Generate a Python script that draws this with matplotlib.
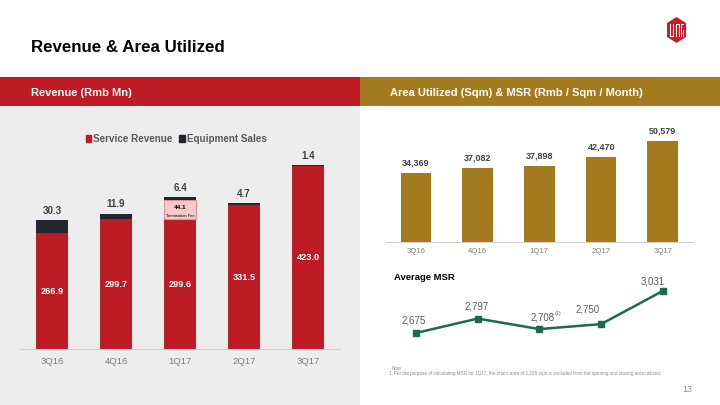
import matplotlib
matplotlib.use("Agg")
import matplotlib.pyplot as plt
from matplotlib.patches import Rectangle, Polygon, Patch

plt.rcParams['font.family'] = ['Liberation Sans', 'DejaVu Sans']

# ---------------- data ----------------
quarters = ["3Q16", "4Q16", "1Q17", "2Q17", "3Q17"]
service_revenue = [266.9, 299.7, 299.6, 331.5, 423.0]
termination_fee = [0, 0, 44.1, 0, 0]
equipment_sales = [30.3, 11.9, 6.4, 4.7, 1.4]
area_labels = ["3Q16", "4Q16", "1Q17", "2Q17", "3Q17"]
area_utilized = [34369, 37082, 37898, 42470, 50579]
msr = [2675, 2797, 2708, 2750, 3031]

W, H = 720, 405
RED = "#BE1C24"
GOLD = "#A47A1F"
DARK = "#22262F"
GREEN = "#1B6B4C"
GRAY_BG = "#EDEDED"
TXT = "#404040"
TICK = "#7F7F7F"

fig = plt.figure(figsize=(7.2, 4.05), dpi=100)
fig.patch.set_facecolor("white")


def fx(x):
    return x / W


def fy(y):
    return 1 - y / H


def add_ax(x0, y0, x1, y1, **kw):
    return fig.add_axes([fx(x0), fy(y1), (x1 - x0) / W, (y1 - y0) / H], **kw)


# background panels
bg = add_ax(0, 0, W, H)
bg.set_xlim(0, W)
bg.set_ylim(H, 0)
bg.axis("off")
bg.add_patch(Rectangle((0, 106), 360, H - 106, color=GRAY_BG, lw=0))
bg.add_patch(Rectangle((0, 77), 360, 29, color=RED, lw=0))
bg.add_patch(Rectangle((360, 77), 360, 29, color=GOLD, lw=0))
# logo
hexpts = [(676.5, 17), (686, 23), (686, 37), (676.5, 43), (667, 37), (667, 23)]
bg.add_patch(Polygon(hexpts, closed=True, color="#C8202A", lw=0))
for x0 in [669.8, 673.0, 676.0, 678.8, 681.2]:
    bg.add_patch(Rectangle((x0, 24), 1.0, 13, color="white", lw=0))
bg.add_patch(Rectangle((669.8, 36), 4.2, 1.0, color="white", lw=0))
bg.add_patch(Rectangle((676.0, 24), 3.8, 1.0, color="white", lw=0))
bg.add_patch(Rectangle((681.2, 24), 3.2, 1.0, color="white", lw=0))
bg.add_patch(Rectangle((683.4, 30), 1.0, 7, color="white", lw=0))

fig.text(fx(31), fy(48), "Revenue & Area Utilized", fontsize=12.2, fontweight="bold",
         color="black", ha="left", va="center")
fig.text(fx(31), fy(92.5), "Revenue (Rmb Mn)", fontsize=8, fontweight="bold",
         color="white", ha="left", va="center")
fig.text(fx(390), fy(92.5), "Area Utilized (Sqm) & MSR (Rmb / Sqm / Month)", fontsize=8,
         fontweight="bold", color="white", ha="left", va="center")

# ---------------- left: revenue stacked bars ----------------
ax1 = add_ax(20, 110, 340, 349)
ax1.set_facecolor("none")
x = list(range(len(quarters)))
bw = 0.5
ax1.bar(x, service_revenue, width=bw, color=RED, lw=0, zorder=2)
ax1.bar(x, termination_fee, width=bw, bottom=service_revenue, color="#F7C9CB",
        edgecolor="#E09096", lw=[0.8 if t > 0 else 0 for t in termination_fee], zorder=2)
bottom_eq = [s + t for s, t in zip(service_revenue, termination_fee)]
ax1.bar(x, equipment_sales, width=bw, bottom=bottom_eq, color=DARK, lw=0, zorder=2)
ax1.set_xlim(-0.5, 4.5)
ax1.set_ylim(0, 551.3)
for sp in ["top", "right", "left"]:
    ax1.spines[sp].set_visible(False)
ax1.spines["bottom"].set_color("#D0D0D0")
ax1.spines["bottom"].set_linewidth(0.8)
ax1.set_yticks([])
ax1.set_xticks(x)
ax1.set_xticklabels(quarters, fontsize=6.8, color=TICK)
ax1.tick_params(axis="x", length=0, pad=6)

for i in x:
    total = bottom_eq[i] + equipment_sales[i]
    ax1.annotate(f"{equipment_sales[i]:.1f}", (i, total), xytext=(0, 6.8),
                 textcoords="offset points", ha="center", va="center",
                 fontsize=7, fontweight="bold", color=TXT)
    ax1.text(i, service_revenue[i] / 2, f"{service_revenue[i]:.1f}", ha="center",
             va="center", fontsize=6.6, fontweight="bold", color="white", zorder=3)
    if termination_fee[i] > 0:
        mid = service_revenue[i] + termination_fee[i] / 2
        ax1.annotate(f"{termination_fee[i]:.1f}", (i, mid), xytext=(0, 1.6),
                     textcoords="offset points", ha="center", va="center",
                     fontsize=4.6, fontweight="bold", color="black", zorder=3)
        ax1.annotate("Termination Fee", (i, mid), xytext=(0, -4.3),
                     textcoords="offset points", ha="center", va="center",
                     fontsize=2.9, color="black", zorder=3)

handles = [Patch(color=RED), Patch(color=DARK)]
fig.legend(handles, ["Service Revenue", "Equipment Sales"], ncol=2, frameon=False,
           loc="center", bbox_to_anchor=(fx(176), fy(139)),
           prop={"weight": "bold", "size": 7.1}, labelcolor="#595959",
           handlelength=0.6, handleheight=0.6, handletextpad=0.2,
           columnspacing=0.6)

# ---------------- right top: area utilized ----------------
ax2 = add_ax(386, 120, 693, 242)
ax2.set_facecolor("none")
ax2.bar(x, area_utilized, width=0.5, color=GOLD, lw=0)
ax2.set_xlim(-0.486, 4.49)
ax2.set_ylim(0, 61095)
for sp in ["top", "right", "left"]:
    ax2.spines[sp].set_visible(False)
ax2.spines["bottom"].set_color("#D0D0D0")
ax2.spines["bottom"].set_linewidth(0.8)
ax2.set_yticks([])
ax2.set_xticks(x)
ax2.set_xticklabels(area_labels, fontsize=5.6, color=TICK)
ax2.tick_params(axis="x", length=0, pad=4)
for i in x:
    ax2.annotate(f"{area_utilized[i]:,}", (i, area_utilized[i]), xytext=(0, 7.3),
                 textcoords="offset points", ha="center", va="center",
                 fontsize=6.5, fontweight="bold", color=TXT)

# ---------------- right bottom: MSR line ----------------
ax3 = add_ax(386, 280, 693, 345)
ax3.set_facecolor("none")
ax3.plot(x, msr, color=GREEN, lw=1.8, marker="s", markersize=3.8, zorder=3)
ax3.set_xlim(-0.486, 4.49)
ax3.set_ylim(2573, 3124)
ax3.axis("off")
offsets = [(-1.9, 8.9), (-0.7, 8.4), (2.5, 8.6), (-9.5, 10.6), (-7.4, 7.0)]
for i in x:
    ax3.annotate(f"{msr[i]:,}", (i, msr[i]), xytext=offsets[i],
                 textcoords="offset points", ha="center", va="center",
                 fontsize=7, color="#595959")
ax3.annotate("(1)", (2, msr[2]), xytext=(13.4, 11.3),
             textcoords="offset points", ha="center", va="center",
             fontsize=3.8, color="#595959")

fig.text(fx(394), fy(278), "Average MSR", fontsize=6.8, fontweight="bold",
         color="black", ha="left", va="center")
fig.text(fx(392), fy(368), "Note", fontsize=3.3, color="#8C8C8C", ha="left", va="center")
fig.text(fx(389), fy(374),
         "1. For the purpose of calculating MSR for 1Q17, the churn area of 1,225 sqm is "
         "excluded from the opening and closing area utilized.",
         fontsize=3.3, color="#8C8C8C", ha="left", va="center")
fig.text(fx(692), fy(390), "13", fontsize=6.5, color="#8C8C8C", ha="right", va="center")

fig.savefig("out.png", dpi=100, facecolor="white")
